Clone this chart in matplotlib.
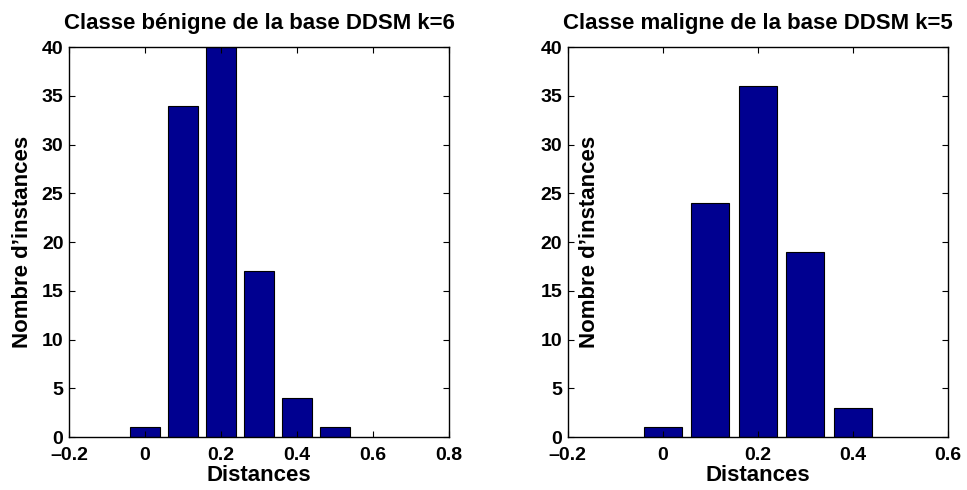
import numpy as np
import matplotlib.pyplot as plt

plt.rcParams['font.family'] = ['Liberation Sans', 'DejaVu Sans']
plt.rcParams['font.weight'] = 'bold'

# histogrammes des distances par classe
dist_benigne = [0.0, 0.1, 0.2, 0.3, 0.4, 0.5]
count_benigne = [1, 34, 40, 17, 4, 1]
dist_maligne = [0.0, 0.1, 0.2, 0.3, 0.4]
count_maligne = [1, 24, 36, 19, 3]

titres = ['Classe bénigne de la base DDSM k=6', 'Classe maligne de la base DDSM k=5']
xlims = [(-0.2, 0.8), (-0.2, 0.6)]

fig = plt.figure(figsize=(9.67, 4.90), dpi=100)
ax1 = fig.add_axes([0.0714, 0.108, 0.393, 0.796])
ax2 = fig.add_axes([0.587, 0.108, 0.393, 0.796])

for ax, x, y, titre, xl in zip([ax1, ax2], [dist_benigne, dist_maligne],
                               [count_benigne, count_maligne], titres, xlims):
    ax.bar(x, y, width=0.08, color='#000090', edgecolor='black', linewidth=0.8)
    ax.set_xlim(xl)
    ax.set_ylim(0, 40)
    xt = np.arange(xl[0], xl[1] + 0.01, 0.2)
    ax.set_xticks(xt)
    ax.set_xticklabels([('%g' % v).replace('-', '\u2013') if abs(v) > 1e-9 else '0'
                        for v in xt])
    ax.set_yticks(range(0, 41, 5))
    ax.tick_params(direction='in', top=True, right=True, labelsize=14, length=4)
    ax.tick_params(axis='x', pad=7)
    ax.tick_params(axis='y', pad=4)
    for lab in ax.get_xticklabels() + ax.get_yticklabels():
        lab.set_fontweight('bold')
    for sp in ax.spines.values():
        sp.set_linewidth(1.0)
    ax.set_title(titre, fontsize=16, fontweight='bold', pad=13)
    ax.set_xlabel('Distances', fontsize=16, fontweight='bold', labelpad=1)
    ax.set_ylabel('Nombre d\u2019instances', fontsize=16, fontweight='bold', labelpad=6)

# l'étiquette y du second graphe est placée à l'intérieur du cadre
ax2.yaxis.set_label_coords(0.085, 0.5)

fig.savefig('out.png', dpi=100)
